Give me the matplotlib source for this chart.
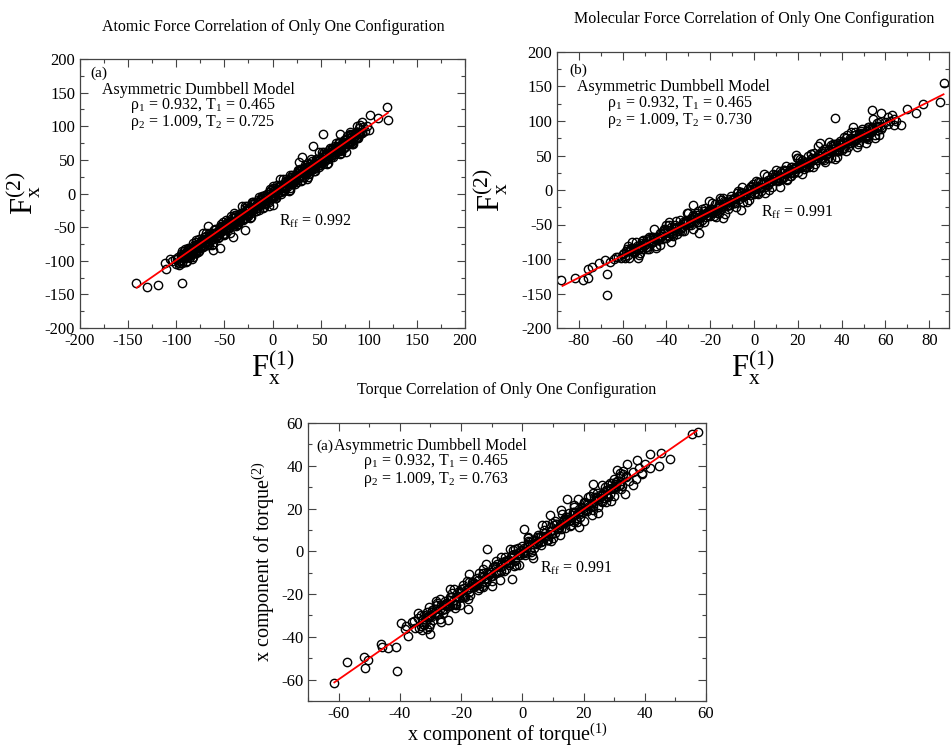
import matplotlib
matplotlib.use("Agg")
import matplotlib.pyplot as plt
from matplotlib.ticker import MultipleLocator

plt.rcParams['font.family'] = ['Liberation Serif', 'DejaVu Serif']
plt.rcParams['mathtext.fontset'] = 'custom'
plt.rcParams['mathtext.rm'] = 'Liberation Serif'
plt.rcParams['mathtext.it'] = 'Liberation Serif:italic'
plt.rcParams['axes.unicode_minus'] = False

# ---- panel (a): atomic force ----
a_x = [-98, -97, -95, -94, -92, -91, -89, -88, -86, -85, -84, -82, -81, -79, -78, -76, -75, -74, -72, -71,
       -69, -68, -66, -65, -64, -62, -61, -59, -58, -56, -55, -54, -52, -51, -49, -48, -46, -45, -44, -42,
       -41, -39, -38, -36, -35, -34, -32, -31, -29, -28, -26, -25, -24, -22, -21, -19, -18, -16, -15, -14,
       -12, -11, -9, -8, -6, -5, -4, -2, -1, 1, 2, 4, 5, 6, 8, 9, 11, 12, 14, 15,
       16, 18, 19, 21, 22, 24, 25, 26, 28, 29, 31, 32, 34, 35, 36, 38, 39, 41, 42, 44,
       45, 46, 48, 49, 51, 52, 54, 55, 56, 58, 59, 61, 62, 64, 65, 66, 68, 69, 71, 72,
       74, 75, 76, 78, 79, 81, 82, 84, 85, 86, 88, 89, 91,
       -99, -96, -93, -90, -87, -83, -80, -77, -73, -70, -67, -63, -60, -57, -53, -50, -47, -43, -40, -37,
       -33, -30, -27, -23, -20, -17, -13, -10, -7, -3, 0, 3, 7, 10, 13, 17, 20, 23, 27, 30,
       33, 37, 40, 43, 47, 50, 53, 57, 60, 63, 67, 70, 73, 77, 80, 83, 87, 90, 93,
       -95.5, -93.5, -91.5, -89.5, -87.5, -85.5, -83.5, -81.5, -79.5, -77.5, -75.5, -73.5, -71.5, -69.5,
       -67.5, -65.5, -63.5, -61.5, -59.5, -57.5, -55.5, -53.5, -51.5, -49.5, -47.5, -45.5, -43.5, -41.5,
       -39.5, -37.5, -35.5, -33.5, -31.5, -29.5, -27.5, -25.5, -23.5, -21.5, -19.5, -17.5, -15.5, -13.5,
       -11.5, -9.5, -7.5, -5.5, -3.5, -1.5, 0.5, 2.5, 4.5, 6.5, 8.5, 10.5, 12.5, 14.5, 16.5, 18.5,
       20.5, 22.5, 24.5, 26.5, 28.5, 30.5, 32.5, 34.5, 36.5, 38.5, 40.5, 42.5, 44.5, 46.5, 48.5, 50.5,
       52.5, 54.5, 56.5, 58.5, 60.5, 62.5, 64.5, 66.5, 68.5, 70.5, 72.5, 74.5, 76.5, 78.5, 80.5, 82.5,
       84.5, 86.5, 88.5,
       -94, -92, -90, -88, -86, -84, -82, -80, -78, -76, -74, -72, -70, -68, -66, -64, -62, -60, -58, -56,
       -54, -52, -50, -48, -46, -44, -42, -40, -38, -36, -34, -32, -30, -28, -26, -24, -22, -20, -18, -16,
       -14, -12, -10, -8, -6, -4, -2, 0, 2, 4, 6, 8, 10, 12, 14, 16, 18, 20, 22, 24,
       26, 28, 30, 32, 34, 36, 38, 40, 42, 44, 46, 48, 50, 52, 54, 56, 58, 60, 62, 64,
       66, 68, 70, 72, 74, 76, 78, 80, 82, 84, 86, 88, 90,
       -97, -95, -93, -91, -89, -87, -85, -83, -81, -79, -77, -75, -73, -71, -69, -67, -65, -63, -61, -59,
       -57, -55, -53, -51, -49, -47, -45, -43, -41, -39, -37, -35, -33, -31, -29, -27, -25, -23, -21, -19,
       -17, -15, -13, -11, -9, -7, -5, -3, -1, 1, 3, 5, 7, 9, 11, 13, 15, 17, 19, 21,
       23, 25, 27, 29, 31, 33, 35, 37, 39, 41, 43, 45, 47, 49, 51, 53, 55, 57, 59, 61,
       63, 65, 67, 69, 71, 73, 75, 77, 79, 81, 83, 85, 87, 89, 91,
       -104, -101, -100, 96, 94, 98, 93,
       -142, -130, -119, -94, -112, -111, -107, -96, -83, -62, -41, 1, 52, 70, 42, 119, 120, 110, 101, 93,
       100, 90, 84, 28, 31, 37, -67, -55, -29, 18]
a_y = [-94, -104, -94, -104, -86, -95, -90, -81, -94, -83, -90, -77, -83, -88, -75, -68, -80, -74, -79, -65,
       -72, -66, -76, -61, -65, -68, -54, -63, -57, -64, -50, -56, -49, -60, -49, -40, -51, -52, -42, -36,
       -44, -35, -48, -37, -30, -40, -31, -39, -22, -32, -23, -34, -24, -29, -13, -21, -14, -21, -13, -24,
       -7, -12, -15, -2, -9, -4, -12, 5, -5, 4, -5, 4, 13, 1, 12, 0, 12, 10, 19, 9,
       18, 8, 25, 20, 18, 27, 17, 33, 25, 33, 24, 32, 42, 30, 37, 29, 44, 39, 44, 38,
       51, 45, 40, 52, 48, 59, 49, 55, 60, 51, 60, 57, 67, 62, 59, 69, 67, 75, 66, 74,
       67, 75, 80, 75, 73, 83, 87, 80, 84, 89, 83, 90, 89,
       -98, -100, -94, -87, -89, -88, -78, -77, -76, -67, -71, -64, -59, -62, -53, -48, -50, -45, -37, -41,
       -32, -31, -32, -21, -22, -17, -16, -7, -11, -4, 1, 1, 9, 5, 13, 14, 23, 22, 23, 31,
       31, 39, 35, 43, 46, 47, 56, 53, 61, 61, 69, 65, 72, 77, 77, 86, 83, 91, 92,
       -99.5, -90.5, -91.5, -95.5, -82.5, -88.5, -84.5, -79.5, -86.5, -76.5, -80.5, -69.5, -73.5, -63.5,
       -75.5, -65.5, -67.5, -58.5, -60.5, -63.5, -54.5, -48.5, -54.5, -54.5, -45.5, -49.5, -40.5, -41.5,
       -45.5, -32.5, -38.5, -34.5, -29.5, -36.5, -26.5, -30.5, -19.5, -23.5, -13.5, -25.5, -15.5, -17.5,
       -8.5, -10.5, -13.5, -4.5, 1.5, -4.5, -4.5, 4.5, 0.5, 9.5, 8.5, 4.5, 17.5, 11.5, 15.5, 20.5,
       13.5, 23.5, 19.5, 30.5, 26.5, 36.5, 24.5, 34.5, 32.5, 41.5, 39.5, 36.5, 45.5, 51.5, 45.5, 45.5,
       54.5, 50.5, 59.5, 58.5, 54.5, 67.5, 61.5, 65.5, 70.5, 63.5, 73.5, 69.5, 80.5, 76.5, 86.5, 74.5,
       84.5, 82.5, 91.5,
       -85, -96, -102, -87, -81, -98, -83, -69, -84, -86, -71, -59, -72, -76, -58, -62, -75, -53, -63, -56,
       -45, -56, -62, -47, -41, -58, -43, -29, -44, -46, -31, -19, -32, -36, -18, -22, -35, -13, -23, -16,
       -5, -16, -22, -7, -1, -18, -3, 11, -4, -6, 9, 21, 8, 4, 22, 18, 5, 27, 17, 24,
       35, 24, 18, 33, 39, 22, 37, 51, 36, 34, 49, 61, 48, 44, 62, 58, 45, 67, 57, 64,
       75, 64, 58, 73, 79, 62, 77, 91, 76, 74, 89, 101, 88,
       -106, -90, -95, -83, -100, -84, -91, -74, -85, -72, -87, -75, -69, -78, -58, -72, -63, -76, -55, -60,
       -66, -50, -55, -43, -60, -44, -51, -34, -45, -32, -47, -35, -29, -38, -18, -32, -23, -36, -15, -20,
       -26, -10, -15, -3, -20, -4, -11, 6, -5, 8, -7, 5, 11, 2, 22, 8, 17, 4, 25, 20,
       14, 30, 25, 37, 20, 36, 29, 46, 35, 48, 33, 45, 51, 42, 62, 48, 57, 44, 65, 60,
       54, 70, 65, 77, 60, 76, 69, 86, 75, 88, 73, 85, 91, 82, 102,
       -100, -98, -105, 93, 99, 100, 90,
       -133, -139, -136, -133, -104, -113, -98, -104, -94, -84, -65, -17, 89, 89, 70, 128, 110, 112, 117, 107,
       94, 97, 80, 47, 54, 25, -49, -81, -54, 28]
a_line_x = [-141, 120]
a_line_y = [-140, 120]

# ---- panel (b): molecular force ----
b_x = [-58, -57, -56, -55, -54, -53, -52, -51, -50, -49, -48, -47, -46, -45, -44, -43, -42, -41, -40, -39,
       -38, -37, -36, -35, -34, -33, -32, -31, -30, -29, -28, -27, -26, -25, -24, -23, -22, -21, -20, -19,
       -18, -17, -16, -15, -14, -13, -12, -11, -10, -9, -8, -7, -6, -5, -4, -3, -2, -1, 0, 1,
       2, 3, 4, 5, 6, 7, 8, 9, 10, 11, 12, 13, 14, 15, 16, 17, 18, 19, 20, 21,
       22, 23, 24, 25, 26, 27, 28, 29, 30, 31, 32, 33, 34, 35, 36, 37, 38, 39, 40, 41,
       42, 43, 44, 45, 46, 47, 48, 49, 50, 51, 52, 53, 54, 55, 56, 57, 58,
       -59.5, -57.5, -55.5, -53.5, -51.5, -49.5, -47.5, -45.5, -43.5, -41.5, -39.5, -37.5, -35.5, -33.5,
       -31.5, -29.5, -27.5, -25.5, -23.5, -21.5, -19.5, -17.5, -15.5, -13.5, -11.5, -9.5, -7.5, -5.5,
       -3.5, -1.5, 0.5, 2.5, 4.5, 6.5, 8.5, 10.5, 12.5, 14.5, 16.5, 18.5, 20.5, 22.5, 24.5, 26.5,
       28.5, 30.5, 32.5, 34.5, 36.5, 38.5, 40.5, 42.5, 44.5, 46.5, 48.5, 50.5, 52.5, 54.5, 56.5, 58.5,
       -58.8, -56.2, -53.8, -51.2, -48.8, -46.2, -43.8, -41.2, -38.8, -36.2, -33.8, -31.2, -28.8, -26.2,
       -23.8, -21.2, -18.8, -16.2, -13.8, -11.2, -8.8, -6.2, -3.8, -1.2, 1.2, 3.8, 6.2, 8.8, 11.2, 13.8,
       16.2, 18.8, 21.2, 23.8, 26.2, 28.8, 31.2, 33.8, 36.2, 38.8, 41.2, 43.8, 46.2, 48.8, 51.2, 53.8, 56.2,
       -57.5, -55, -52.5, -50, -47.5, -45, -42.5, -40, -37.5, -35, -32.5, -30, -27.5, -25, -22.5, -20,
       -17.5, -15, -12.5, -10, -7.5, -5, -2.5, 0, 2.5, 5, 7.5, 10, 12.5, 15, 17.5, 20,
       22.5, 25, 27.5, 30, 32.5, 35, 37.5, 40, 42.5, 45, 47.5, 50, 52.5, 55, 57.5,
       -56.9, -54.4, -51.9, -49.4, -46.9, -44.4, -41.9, -39.4, -36.9, -34.4, -31.9, -29.4, -26.9, -24.4,
       -21.9, -19.4, -16.9, -14.4, -11.9, -9.4, -6.9, -4.4, -1.9, 0.6, 3.1, 5.6, 8.1, 10.6, 13.1, 15.6,
       18.1, 20.6, 23.1, 25.6, 28.1, 30.6, 33.1, 35.6, 38.1, 40.6, 43.1, 45.6, 48.1, 50.6, 53.1, 55.6,
       -55.6, -53.1, -50.6, -48.1, -45.6, -43.1, -40.6, -38.1, -35.6, -33.1, -30.6, -28.1, -25.6, -23.1,
       -20.6, -18.1, -15.6, -13.1, -10.6, -8.1, -5.6, -3.1, -0.6, 1.9, 4.4, 6.9, 9.4, 11.9, 14.4, 16.9,
       19.4, 21.9, 24.4, 26.9, 29.4, 31.9, 34.4, 36.9, 39.4, 41.9, 44.4, 46.9, 49.4, 51.9, 54.4, 56.9,
       -58.8, -56.2, -53.8, -51.2, -48.8, -46.2, -43.8, -41.2, -38.8, -36.2, -33.8, -31.2, -28.8, -26.2,
       -23.8, -21.2, -18.8, -16.2, -13.8, -11.2, -8.8, -6.2, -3.8, -1.2, 1.2, 3.8, 6.2, 8.8, 11.2, 13.8,
       16.2, 18.8, 21.2, 23.8, 26.2, 28.8, 31.2, 33.8, 36.2, 38.8, 41.2, 43.8, 46.2, 48.8, 51.2, 53.8, 56.2,
       -62, -60, -64, -66, -61, 60, 62, 64, 61, 63, 65,
       -88, -82, -78, -76, -76, -74, -71, -67, -67, -68, -63, -58.5, -39, -25, -28, -14, -6, 37, 54, 58,
       61, 67, 64, 70, 74, 77, 85, 86.6, 45, 51.5, 19, 30, 38, 51]
b_y = [-85, -98, -87, -91, -76, -85, -91, -77, -79, -83, -68, -77, -68, -81, -68, -62, -71, -62, -70, -51,
       -53, -66, -55, -59, -44, -53, -59, -45, -47, -51, -36, -45, -36, -49, -36, -30, -39, -30, -38, -19,
       -21, -34, -23, -27, -12, -21, -27, -13, -15, -19, -4, -13, -4, -17, -4, 2, -7, 2, -6, 13,
       11, -2, 9, 5, 20, 11, 5, 19, 17, 13, 28, 19, 28, 15, 28, 34, 25, 34, 26, 45,
       43, 30, 41, 37, 52, 43, 37, 51, 49, 45, 60, 51, 60, 47, 60, 66, 57, 66, 58, 77,
       75, 62, 73, 69, 84, 75, 69, 83, 81, 77, 92, 83, 92, 79, 92, 98, 89,
       -92, -94, -88, -81, -82, -82, -72, -71, -71, -60, -67, -59, -53, -55,
       -48, -50, -39, -41, -35, -36, -28, -30, -24, -17, -18, -18, -8, -7,
       -7, 4, -3, 5, 11, 9, 16, 14, 25, 23, 29, 28, 36, 34, 40, 47,
       46, 46, 56, 57, 57, 68, 61, 69, 75, 73, 80, 78, 89, 87, 93, 92,
       -96, -85, -84, -86, -71, -75, -69, -62, -67, -55, -57, -44, -46, -34,
       -44, -32, -32, -21, -21, -22, -11, -3, -7, -5, 6, 4, 15, 16, 14, 29,
       25, 31, 38, 33, 45, 43, 56, 54, 66, 56, 68, 68, 79, 79, 78, 89, 97,
       -81, -90, -94, -77, -69, -84, -67, -51, -64, -64, -47, -33, -44, -46, -26, -28,
       -39, -15, -23, -14, -1, -10, -14, 3, 11, -4, 13, 29, 16, 16, 33, 47,
       36, 34, 54, 52, 41, 65, 57, 66, 79, 70, 66, 83, 91, 76, 93,
       -89, -88, -79, -78, -77, -68, -67, -58, -62, -54, -48, -48, -39, -39,
       -33, -33, -26, -20, -22, -11, -9, -8, 1, 2, 3, 12, 13, 22, 18, 26,
       32, 32, 41, 41, 47, 47, 54, 60, 58, 69, 71, 72, 81, 82, 83, 92,
       -76, -98, -72, -86, -57, -80, -58, -76, -45, -60, -34, -57, -31, -47,
       -16, -37, -11, -35, -9, -24, 4, -18, 8, -6, 23, 0, 22, 4, 35, 20,
       46, 23, 49, 33, 64, 43, 69, 45, 71, 56, 84, 62, 88, 74, 103, 80,
       -99, -84, -86, -74, -85, -70, -73, -57, -63, -51, -60, -48, -41, -46,
       -28, -36, -27, -34, -16, -17, -19, -4, -6, 6, -5, 10, 7, 23, 17, 29,
       20, 32, 39, 34, 52, 44, 53, 46, 64, 63, 61, 76, 74, 86, 75, 90, 87,
       -97, -93, -100, -104, -99, 98, 100, 103, 95, 108, 100,
       -131, -127, -131, -127, -115, -111, -106, -152, -122, -101, -97, -89, -46, -63, -22, -41, -29, 105, 116, 111,
       106, 94, 94, 118, 111, 125, 127, 155, 91, 85, 51, 68, 48, 68]
b_line_x = [-87.5, 86.5]
b_line_y = [-139, 138.7]

# ---- panel (c): torque ----
c_x = [-33, -32, -31, -30, -29, -28, -27, -26, -25, -24, -23, -22, -21, -20, -19, -18, -17, -16, -15, -14,
       -13, -12, -11, -10, -9, -8, -7, -6, -5, -4, -3, -2, -1, 0, 1, 2, 3, 4, 5, 6,
       7, 8, 9, 10, 11, 12, 13, 14, 15, 16, 17, 18, 19, 20, 21, 22, 23, 24, 25, 26,
       27, 28, 29, 30, 31, 32, 33,
       -32.5, -31.5, -30.5, -29.5, -28.5, -27.5, -26.5, -25.5, -24.5, -23.5, -22.5, -21.5, -20.5, -19.5,
       -18.5, -17.5, -16.5, -15.5, -14.5, -13.5, -12.5, -11.5, -10.5, -9.5, -8.5, -7.5, -6.5, -5.5,
       -4.5, -3.5, -2.5, -1.5, -0.5, 0.5, 1.5, 2.5, 3.5, 4.5, 5.5, 6.5, 7.5, 8.5, 9.5, 10.5,
       11.5, 12.5, 13.5, 14.5, 15.5, 16.5, 17.5, 18.5, 19.5, 20.5, 21.5, 22.5, 23.5, 24.5, 25.5, 26.5,
       27.5, 28.5, 29.5, 30.5, 31.5, 32.5,
       -33.75, -32.25, -30.75, -29.25, -27.75, -26.25, -24.75, -23.25, -21.75, -20.25, -18.75, -17.25,
       -15.75, -14.25, -12.75, -11.25, -9.75, -8.25, -6.75, -5.25, -3.75, -2.25, -0.75, 0.75, 2.25, 3.75,
       5.25, 6.75, 8.25, 9.75, 11.25, 12.75, 14.25, 15.75, 17.25, 18.75, 20.25, 21.75, 23.25, 24.75,
       26.25, 27.75, 29.25, 30.75, 32.25, 33.75,
       -34, -32.5, -31, -29.5, -28, -26.5, -25, -23.5, -22, -20.5, -19, -17.5, -16, -14.5, -13, -11.5,
       -10, -8.5, -7, -5.5, -4, -2.5, -1, 0.5, 2, 3.5, 5, 6.5, 8, 9.5, 11, 12.5, 14, 15.5, 17, 18.5,
       20, 21.5, 23, 24.5, 26, 27.5, 29, 30.5, 32, 33.5,
       -31.25, -29.75, -28.25, -26.75, -25.25, -23.75, -22.25, -20.75, -19.25, -17.75, -16.25, -14.75,
       -13.25, -11.75, -10.25, -8.75, -7.25, -5.75, -4.25, -2.75, -1.25, 0.25, 1.75, 3.25, 4.75, 6.25,
       7.75, 9.25, 10.75, 12.25, 13.75, 15.25, 16.75, 18.25, 19.75, 21.25, 22.75, 24.25, 25.75, 27.25,
       28.75, 30.25,
       -32.75, -31.25, -29.75, -28.25, -26.75, -25.25, -23.75, -22.25, -20.75, -19.25, -17.75, -16.25,
       -14.75, -13.25, -11.75, -10.25, -8.75, -7.25, -5.75, -4.25, -2.75, -1.25, 0.25, 1.75, 3.25, 4.75,
       6.25, 7.75, 9.25, 10.75, 12.25, 13.75, 15.25, 16.75, 18.25, 19.75, 21.25, 22.75, 24.25, 25.75,
       27.25, 28.75, 30.25, 31.75,
       -38, -36, -35, -34, -33, 34, 35, 36, 37, 38, 39, 40, 36, 33, 30, 28,
       -61.6, -57.4, -51.7, -51.4, -50.3, -45.7, -46.3, -44, -41.4, -40.8, -39.5, -38.4, -37.3, -35.4,
       -30.6, -30, -30.6, -24.3, -17.6, -11.4, -3.3, 0.6, 8.9, 14.6, 24.6, 23, 34.3, 37.3, 41.6, 45.3,
       48.1, 44.5, 41.8, 39.1, 55.4, 57.5, 31, 18.6]
c_y = [-30, -34.5, -30.5, -34, -27, -29, -22.5, -29, -24, -25.5, -19.5, -26.5, -21, -17.5, -21, -14, -20.5,
       -14.5, -15.5, -17, -10, -14.5, -10.5, -14, -7, -9, -2.5, -9, -4, -5.5, 0.5, -6.5, -1, 2.5, -1, 6,
       -0.5, 5.5, 4.5, 3, 10, 5.5, 9.5, 6, 13, 11, 17.5, 11, 16, 14.5, 20.5, 13.5, 19, 22.5, 19, 26,
       19.5, 25.5, 24.5, 23, 30, 25.5, 29.5, 26, 33, 31, 37.5,
       -31.5, -33, -30.5, -27.5, -29, -29.5, -25, -25, -25.5, -21.5, -24.5, -21.5, -19.5, -20.5,
       -18, -19, -14.5, -16, -13.5, -15, -11.5, -13, -10.5, -7.5, -9, -9.5, -5, -5,
       -5.5, -1.5, -4.5, -1.5, 0.5, -0.5, 2, 1, 5.5, 4, 6.5, 5, 8.5, 7, 9.5, 12.5,
       11, 10.5, 15, 15, 14.5, 18.5, 15.5, 18.5, 20.5, 19.5, 22, 21, 25.5, 24, 26.5, 25,
       28.5, 27, 29.5, 32.5, 31, 30.5,
       -35.75, -29.75, -30.25, -32.25, -24.25, -27.25, -24.75, -21.25, -25.25, -19.25, -21.25, -14.25,
       -16.25, -10.25, -16.75, -10.75, -11.75, -5.75, -6.75, -8.25, -2.75, 1.25, -1.75, -1.75, 4.25, 1.75,
       7.75, 7.25, 5.25, 13.25, 10.25, 12.75, 16.25, 12.25, 18.25, 16.25, 23.25, 21.25, 27.25, 20.75,
       26.75, 25.75, 31.75, 30.75, 29.25, 34.75,
       -29, -34, -36.5, -28.5, -25, -33, -25, -17.5, -24.5, -25, -17, -10.5, -16.5, -18, -8.5, -10,
       -16, -4.5, -9, -5, 1, -4, -6.5, 1.5, 5, -3, 5, 12.5, 5.5, 5, 13, 19.5, 13.5, 12, 21.5, 20,
       14, 25.5, 21, 25, 31, 26, 23.5, 31.5, 35, 27,
       -30.75, -30.75, -26.75, -26.75, -26.75, -22.75, -22.75, -18.75, -21.25, -17.75, -15.25, -15.75,
       -11.75, -12.25, -9.75, -10.25, -7.25, -4.75, -6.25, -1.25, -0.75, -0.75, 3.25, 3.25, 3.25, 7.25,
       7.25, 11.25, 8.75, 12.25, 14.75, 14.25, 18.25, 17.75, 20.25, 19.75, 22.75, 25.25, 23.75, 28.75,
       29.25, 29.25,
       -36.75, -28.25, -29.75, -23.25, -31.75, -23.25, -25.75, -17.75, -21.75, -15.75, -22.25, -15.25,
       -12.25, -16.25, -5.75, -11.75, -7.25, -13.25, -2.75, -4.25, -6.75, 1.75, 0.25, 6.75, -1.75, 6.75,
       4.25, 12.25, 8.25, 14.25, 7.75, 14.75, 17.75, 13.75, 24.25, 18.25, 22.75, 16.75, 27.25, 25.75,
       23.25, 31.75, 30.25, 36.75,
       -35, -33, -36, -31, -35, 35, 33, 37, 34, 39, 36, 41, 31, 36, 34, 31,
       -61.7, -51.9, -49.6, -54.5, -50.7, -44.9, -43.3, -45, -44.9, -56.1, -33.6, -36.3, -39.4, -32.4,
       -26.1, -38.6, -35.2, -32, -26.9, 0.9, -12.8, 10.2, 16.9, 24.4, 17.9, 31.4, 40.8, 42.7, 45.5, 46.1,
       43.1, 39.8, 38.8, 36.4, 54.8, 55.6, 38, 11.4]
c_line_x = [-61.4, 57]
c_line_y = [-61.3, 56.4]

W, H = 951, 747
fig = plt.figure(figsize=(W / 100, H / 100), dpi=100)


def make_axes(rect, xlim, ylim, xmaj, xmin, ymaj, ymin):
    l, t, r, b = rect
    ax = fig.add_axes([l / W, 1 - b / H, (r - l) / W, (b - t) / H])
    ax.set_xlim(*xlim)
    ax.set_ylim(*ylim)
    ax.xaxis.set_major_locator(MultipleLocator(xmaj))
    ax.xaxis.set_minor_locator(MultipleLocator(xmin))
    ax.yaxis.set_major_locator(MultipleLocator(ymaj))
    ax.yaxis.set_minor_locator(MultipleLocator(ymin))
    ax.tick_params(which='both', direction='in', top=True, right=True, labelsize=12, color='#444444')
    ax.tick_params(which='major', length=5.5, width=0.8)
    ax.tick_params(which='minor', length=3, width=0.8)
    for s in ax.spines.values():
        s.set_linewidth(0.9)
        s.set_color('#444444')
    return ax


def scatter_line(ax, x, y, lx, ly):
    ax.plot(x, y, 'o', ms=6, mfc='none', mec='black', mew=1.0)
    ax.plot(lx, ly, '-', color='#ff0000', lw=1.3)


def annotate(ax, tag, tag_pos, model_pos, p1_pos, p2_pos, r_pos, t2, rff):
    kw = dict(transform=ax.transAxes, fontsize=11.5, va='center')
    ax.text(*tag_pos, tag, transform=ax.transAxes, fontsize=11, va='center')
    ax.text(*model_pos, 'Asymmetric Dumbbell Model', **kw)
    ax.text(*p1_pos, r'ρ$_1$ = 0.932, T$_1$ = 0.465', **kw)
    ax.text(*p2_pos, r'ρ$_2$ = 1.009, T$_2$ = ' + t2, **kw)
    ax.text(*r_pos, r'R$_\mathrm{ff}$ = ' + rff, **kw)


# panel (a)
ax1 = make_axes((80, 59, 465, 328), (-200, 200), (-200, 200), 50, 25, 50, 25)
scatter_line(ax1, a_x, a_y, a_line_x, a_line_y)
ax1.set_xlabel(r'F$_\mathrm{x}^{\mathrm{(1)}}$', fontsize=22)
ax1.set_ylabel(r'F$_\mathrm{x}^{\mathrm{(2)}}$', fontsize=22)
ax1.xaxis.set_label_coords(0.5, -0.075)
ax1.yaxis.set_label_coords(-0.096, 0.5)
annotate(ax1, '(a)', (0.026, 0.948), (0.056, 0.885), (0.13, 0.828), (0.13, 0.763), (0.516, 0.395),
         '0.725', '0.992')
fig.text(273 / W, 1 - 27 / H, 'Atomic Force Correlation of Only One Configuration',
         ha='center', va='center', fontsize=11.5)

# panel (b)
ax2 = make_axes((557, 52, 949, 328), (-90, 89), (-200, 200), 20, 10, 50, 25)
scatter_line(ax2, b_x, b_y, b_line_x, b_line_y)
ax2.set_xlabel(r'F$_\mathrm{x}^{\mathrm{(1)}}$', fontsize=22)
ax2.set_ylabel(r'F$_\mathrm{x}^{\mathrm{(2)}}$', fontsize=22)
ax2.xaxis.set_label_coords(0.5, -0.072)
ax2.yaxis.set_label_coords(-0.12, 0.5)
annotate(ax2, '(b)', (0.031, 0.935), (0.051, 0.874), (0.127, 0.815), (0.127, 0.752), (0.52, 0.421),
         '0.730', '0.991')
fig.text(754 / W, 1 - 19 / H, 'Molecular Force Correlation of Only One Configuration',
         ha='center', va='center', fontsize=11.5)

# panel (c)
ax3 = make_axes((308, 423, 706, 701), (-70, 60), (-70, 60), 20, 10, 20, 10)
scatter_line(ax3, c_x, c_y, c_line_x, c_line_y)
ax3.set_xlabel(r'x component of torque$^\mathrm{(1)}$', fontsize=14.5)
ax3.set_ylabel(r'x component of torque$^\mathrm{(2)}$', fontsize=14.5)
ax3.xaxis.set_label_coords(0.5, -0.075)
ax3.yaxis.set_label_coords(-0.078, 0.5)
annotate(ax3, '(a)', (0.02, 0.917), (0.065, 0.917), (0.137, 0.862), (0.137, 0.795), (0.583, 0.477),
         '0.763', '0.991')
fig.text(507 / W, 1 - 390 / H, 'Torque Correlation of Only One Configuration',
         ha='center', va='center', fontsize=11.5)

fig.savefig('out.png', dpi=100)
